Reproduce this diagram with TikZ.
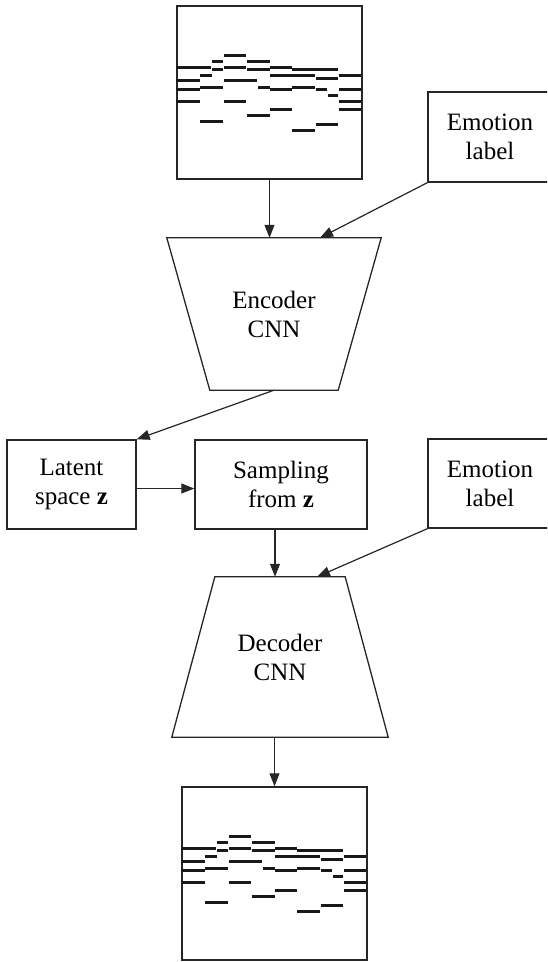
\documentclass[tikz,border=0pt]{standalone}
\usepackage{fontspec}
\setmainfont{Liberation Serif}
\usetikzlibrary{arrows.meta,calc}
\newcommand\pianoroll{%
  \foreach \a/\b/\c in {143/210/152,106/141/169,211/280/169,0/105/186,143/210/186,281/346/187,
    106/141/194,211/280/194,348/485/194,71/106/211,281/415/211,488/555/211,418/485/219,
    0/70/227,143/243/227,71/141/247,245/280/247,348/415/247,0/70/254,281/346/254,
    418/453/254,488/555/254,455/485/272,0/70/289,143/210/289,488/555/289,281/346/313,
    488/555/313,211/280/332,71/141/350,418/485/359,348/415/376}
  {\draw[note] (\a,\c) -- (\b,\c);}}
\begin{document}
\begin{tikzpicture}[x=1pt,y=-1pt,
  lbl/.style={font=\fontsize{25}{29}\selectfont, align=center, inner sep=0pt},
  box/.style={draw=black!85, line width=1.4pt, lbl},
  shapeline/.style={draw=black!85, line width=1.3pt},
  conn/.style={draw=black!85, line width=1.2pt, -{Triangle[length=13pt,width=10pt]}},
  note/.style={line width=3pt, black!90}]
\useasboundingbox (0,0) rectangle (547,962);
\begin{scope}
\clip (0,0) rectangle (547,962);
% nodes
\node[box, minimum width=185, minimum height=173] (img1) at (269.5,92.5) {};
\node[box, minimum width=124, minimum height=90] (emo1) at (490,137) {Emotion\\label};
\node[lbl, minimum width=214, minimum height=152] (enc) at (274,314) {Encoder\\CNN};
\node[box, minimum width=129, minimum height=89] (lat) at (71.5,484.5) {Latent\\space \textbf{z}};
\node[box, minimum width=172, minimum height=89] (samp) at (281,484.5) {Sampling\\from \textbf{z}};
\node[box, minimum width=124, minimum height=89] (emo2) at (490,483.5) {Emotion\\label};
\node[lbl, minimum width=216, minimum height=160] (dec) at (280,657) {Decoder\\CNN};
\node[box, minimum width=185, minimum height=173] (img2) at (274.5,873.5) {};
% trapezoids
\draw[shapeline] (enc.north west) -- (enc.north east) -- ($(enc.south east)+(-43,0)$)
  -- ($(enc.south west)+(43,0)$) -- cycle;
\draw[shapeline] ($(dec.north west)+(43,0)$) -- ($(dec.north east)+(-43,0)$)
  -- (dec.south east) -- (dec.south west) -- cycle;
% piano rolls
\begin{scope}[shift={(img1.north west)}, x=0.3333pt, y=-0.3333pt]
  \pianoroll
\end{scope}
\begin{scope}[shift={(img2.north west)}, x=0.3333pt, y=-0.3333pt]
  \pianoroll
\end{scope}
% connectors
\draw[conn] (img1.south) -- (img1.south |- enc.north);
\draw[conn] (emo1.south west) -- ($(enc.north)+(46,0)$);
\draw[conn] (enc.south) -- (lat.north east);
\draw[conn] ([yshift=-4pt]lat.east) -- ([yshift=-4pt]samp.west);
\draw[conn] ([xshift=-6pt]samp.south) -- ([xshift=-6pt]samp.south |- dec.north);
\draw[conn] (emo2.south west) -- ($(dec.north)+(37,0)$);
\draw[conn] (img2.north |- dec.south) -- (img2.north);
\end{scope}
\end{tikzpicture}
\end{document}
